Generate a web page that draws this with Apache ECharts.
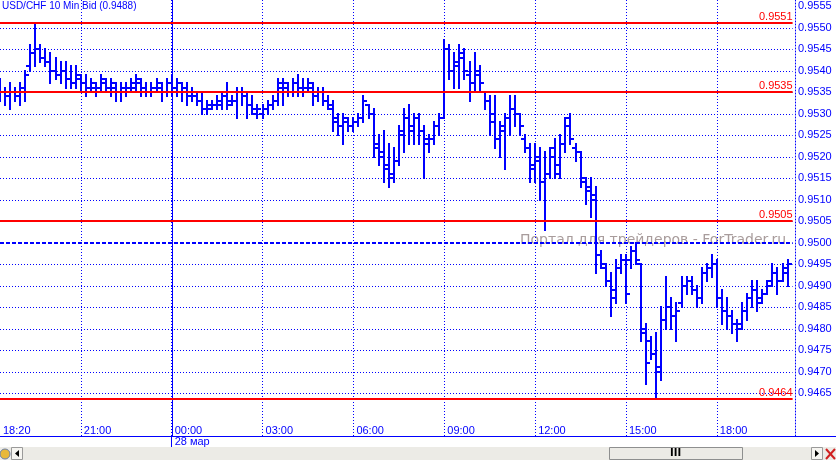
<!DOCTYPE html>
<html><head><meta charset="utf-8">
<script src="https://cdn.jsdelivr.net/npm/echarts@6/dist/echarts.min.js"></script>
<style>html,body{margin:0;padding:0;background:#fff}#c{width:836px;height:460px}</style>
</head><body><div id="c"></div>
<script>
var chartTitle = 'USD/CHF 10 Min Bid (0.9488)';
var watermark = 'Портал для трейдеров - ForTrader.ru';
var dayLabel = '28 мар';
var times = ['18:20','18:30','18:40','18:50',
'19:00','19:10','19:20','19:30','19:40','19:50','20:00','20:10','20:20','20:30','20:40','20:50',
'21:00','21:10','21:20','21:30','21:40','21:50','22:00','22:10','22:20','22:30','22:40','22:50',
'23:00','23:10','23:20','23:30','23:40','23:50','00:00','00:10','00:20','00:30','00:40','00:50',
'01:00','01:10','01:20','01:30','01:40','01:50','02:00','02:10','02:20','02:30','02:40','02:50',
'03:00','03:10','03:20','03:30','03:40','03:50','04:00','04:10','04:20','04:30','04:40','04:50',
'05:00','05:10','05:20','05:30','05:40','05:50','06:00','06:10','06:20','06:30','06:40','06:50',
'07:00','07:10','07:20','07:30','07:40','07:50','08:00','08:10','08:20','08:30','08:40','08:50',
'09:00','09:10','09:20','09:30','09:40','09:50','10:00','10:10','10:20','10:30','10:40','10:50',
'11:00','11:10','11:20','11:30','11:40','11:50','12:00','12:10','12:20','12:30','12:40','12:50',
'13:00','13:10','13:20','13:30','13:40','13:50','14:00','14:10','14:20','14:30','14:40','14:50',
'15:00','15:10','15:20','15:30','15:40','15:50','16:00','16:10','16:20','16:30','16:40','16:50',
'17:00','17:10','17:20','17:30','17:40','17:50','18:00','18:10','18:20','18:30','18:40','18:50',
'19:00','19:10','19:20','19:30','19:40','19:50','20:00','20:10','20:20'];
var shownTimes = ['21:00','00:00','03:00','06:00','09:00','12:00','15:00','18:00'];

var opens = [0.9536,0.9535,0.9534,0.9535,0.9534,0.9535,0.9541,0.9544,0.9545,0.9543,
0.9542,0.9540,0.9539,0.9540,0.9538,0.9537,0.9538,0.9537,0.9536,0.9536,
0.9536,0.9537,0.9536,0.9536,0.9535,0.9536,0.9536,0.9536,0.9537,0.9536,
0.9535,0.9536,0.9536,0.9535,0.9537,0.9536,0.9537,0.9536,0.9535,0.9534,
0.9533,0.9531,0.9531,0.9532,0.9532,0.9534,0.9533,0.9533,0.9535,0.9534,
0.9532,0.9530,0.9530,0.9531,0.9532,0.9533,0.9536,0.9536,0.9535,0.9537,
0.9536,0.9536,0.9536,0.9534,0.9535,0.9533,0.9531,0.9529,0.9527,0.9528,
0.9527,0.9528,0.9529,0.9532,0.9530,0.9523,0.9521,0.9518,0.9516,0.9519,
0.9525,0.9529,0.9526,0.9529,0.9526,0.9523,0.9524,0.9527,0.9529,0.9545,
0.9540,0.9541,0.9543,0.9539,0.9537,0.9539,0.9535,0.9533,0.9530,0.9524,
0.9527,0.9529,0.9531,0.9530,0.9524,0.9522,0.9517,0.9519,0.9514,0.9516,
0.9522,0.9516,0.9523,0.9529,0.9522,0.9521,0.9514,0.9513,0.9511,0.9497,
0.9494,0.9491,0.9487,0.9494,0.9496,0.9496,0.9498,0.9495,0.9479,0.9477,
0.9474,0.9470,0.9482,0.9485,0.9483,0.9486,0.9490,0.9491,0.9489,0.9487,
0.9493,0.9494,0.9495,0.9487,0.9484,0.9483,0.9481,0.9481,0.9484,0.9487,
0.9489,0.9487,0.9488,0.9491,0.9493,0.9491,0.9493];
var highs = [0.9538,0.9536,0.9537,0.9536,0.9537,0.9540,0.9546,0.9551,0.9546,0.9545,
0.9544,0.9543,0.9542,0.9542,0.9541,0.9541,0.9539,0.9539,0.9538,0.9537,
0.9539,0.9538,0.9538,0.9537,0.9537,0.9537,0.9538,0.9539,0.9538,0.9537,
0.9537,0.9538,0.9537,0.9538,0.9539,0.9538,0.9537,0.9537,0.9536,0.9535,
0.9535,0.9533,0.9533,0.9534,0.9535,0.9537,0.9534,0.9536,0.9536,0.9535,
0.9534,0.9532,0.9532,0.9533,0.9534,0.9538,0.9538,0.9537,0.9538,0.9539,
0.9538,0.9538,0.9537,0.9536,0.9536,0.9534,0.9533,0.9530,0.9530,0.9529,
0.9529,0.9530,0.9534,0.9532,0.9531,0.9525,0.9526,0.9523,0.9522,0.9527,
0.9531,0.9532,0.9530,0.9530,0.9527,0.9525,0.9528,0.9530,0.9547,0.9546,
0.9544,0.9546,0.9545,0.9542,0.9544,0.9541,0.9535,0.9534,0.9534,0.9528,
0.9530,0.9534,0.9534,0.9530,0.9525,0.9523,0.9523,0.9522,0.9521,0.9522,
0.9524,0.9525,0.9529,0.9530,0.9523,0.9521,0.9515,0.9515,0.9513,0.9498,
0.9495,0.9493,0.9496,0.9497,0.9497,0.9499,0.9500,0.9495,0.9481,0.9478,
0.9479,0.9485,0.9492,0.9487,0.9486,0.9492,0.9492,0.9492,0.9490,0.9494,
0.9495,0.9497,0.9496,0.9489,0.9487,0.9484,0.9482,0.9486,0.9488,0.9491,
0.9491,0.9489,0.9491,0.9495,0.9494,0.9495,0.9496];
var lows = [0.9533,0.9532,0.9531,0.9533,0.9532,0.9533,0.9540,0.9541,0.9542,0.9541,
0.9537,0.9538,0.9537,0.9536,0.9536,0.9536,0.9535,0.9534,0.9535,0.9534,
0.9535,0.9535,0.9534,0.9533,0.9533,0.9534,0.9535,0.9535,0.9534,0.9534,
0.9534,0.9535,0.9533,0.9534,0.9534,0.9534,0.9533,0.9532,0.9533,0.9532,
0.9530,0.9530,0.9531,0.9531,0.9531,0.9531,0.9532,0.9529,0.9532,0.9529,
0.9530,0.9529,0.9529,0.9530,0.9531,0.9532,0.9532,0.9534,0.9534,0.9534,
0.9534,0.9535,0.9532,0.9533,0.9532,0.9531,0.9526,0.9525,0.9523,0.9526,
0.9526,0.9527,0.9528,0.9529,0.9520,0.9518,0.9514,0.9513,0.9514,0.9518,
0.9521,0.9523,0.9523,0.9523,0.9515,0.9521,0.9523,0.9525,0.9529,0.9538,
0.9536,0.9536,0.9538,0.9533,0.9535,0.9535,0.9531,0.9525,0.9522,0.9520,
0.9517,0.9525,0.9527,0.9525,0.9521,0.9514,0.9514,0.9510,0.9503,0.9515,
0.9515,0.9515,0.9521,0.9523,0.9519,0.9513,0.9509,0.9506,0.9493,0.9494,
0.9490,0.9483,0.9486,0.9493,0.9486,0.9494,0.9495,0.9477,0.9467,0.9473,
0.94637,0.9468,0.9480,0.9480,0.9477,0.9485,0.9488,0.9488,0.9485,0.9486,
0.9491,0.9492,0.9485,0.9481,0.9480,0.9479,0.9477,0.9480,0.9482,0.9485,
0.9484,0.9486,0.9488,0.9490,0.9488,0.9491,0.9490];
var closes = [0.9535,0.9534,0.9535,0.9534,0.9536,0.9539,0.9544,0.9545,0.9543,0.9542,
0.9540,0.9539,0.9540,0.9538,0.9537,0.9539,0.9537,0.9536,0.9537,0.9535,
0.9538,0.9536,0.9537,0.9535,0.9536,0.9535,0.9537,0.9538,0.9536,0.9535,
0.9536,0.9537,0.9535,0.9537,0.9536,0.9537,0.9535,0.9534,0.9534,0.9533,
0.9531,0.9532,0.9532,0.9533,0.9534,0.9532,0.9533,0.9535,0.9534,0.9532,
0.9531,0.9531,0.9531,0.9532,0.9533,0.9537,0.9537,0.9535,0.9537,0.9536,
0.9536,0.9537,0.9534,0.9535,0.9533,0.9532,0.9528,0.9527,0.9529,0.9527,
0.9528,0.9529,0.9533,0.9530,0.9522,0.9520,0.9517,0.9515,0.9519,0.9526,
0.9529,0.9527,0.9529,0.9526,0.9524,0.9524,0.9527,0.9529,0.9545,0.9540,
0.9542,0.9544,0.9540,0.9537,0.9540,0.9537,0.9533,0.9528,0.9524,0.9526,
0.9529,0.9531,0.9530,0.9527,0.9522,0.9518,0.9520,0.9514,0.9516,0.9520,
0.9518,0.9523,0.9527,0.9524,0.9521,0.9515,0.9512,0.9510,0.9497,0.9495,
0.9491,0.9489,0.9494,0.9496,0.9488,0.9498,0.9496,0.9480,0.9472,0.9474,
0.9471,0.9482,0.9485,0.9483,0.9484,0.9490,0.9491,0.9489,0.9487,0.9493,
0.9494,0.9495,0.9487,0.9484,0.9483,0.9481,0.9480,0.9484,0.9487,0.9489,
0.9486,0.9488,0.9490,0.9493,0.9491,0.9494,0.9495];

var levelLines = [0.9551, 0.9535, 0.9505, 0.94637];
var bidLine = 0.9500;
var gridLevels = [0.9465,0.9470,0.9475,0.9480,0.9485,0.9490,0.9495,0.9500,0.9505,0.9510,
0.9515,0.9520,0.9525,0.9530,0.9535,0.9540,0.9545,0.9550];
var yMin = 0.9455, yMax = 0.95564, yStep = 0.0005, yLabelFrom = 0.9465;

var BLUE = '#0000ff', RED = '#ff0000', FONT = 'Liberation Sans';
var cats = times.concat(['']);
var ohlc = times.map(function (t, i) { return [i, opens[i], highs[i], lows[i], closes[i]]; });
var dayIndex = times.indexOf('00:00');
function isMajor(idx) { return idx > 0 && shownTimes.indexOf(times[idx]) >= 0; }

function renderOHLC(params, api) {
  var i = api.value(0);
  var o = api.coord([i, api.value(1)]);
  var h = api.coord([i, api.value(2)]);
  var l = api.coord([i, api.value(3)]);
  var c = api.coord([i, api.value(4)]);
  var x = Math.round(o[0]);
  var hy = Math.round(h[1]), ly = Math.round(l[1]);
  var st = {fill: BLUE};
  return {type: 'group', children: [
    {type: 'rect', shape: {x: x - 1, y: hy - 1, width: 2, height: Math.max(2, ly - hy + 2)}, style: st},
    {type: 'rect', shape: {x: x - 4, y: Math.round(o[1]) - 1, width: 3, height: 2}, style: st},
    {type: 'rect', shape: {x: x + 1, y: Math.round(c[1]) - 1, width: 3, height: 2}, style: st}
  ]};
}
function hLineRenderer(stroke, width, dash, withLabel) {
  return function (params, api) {
    var cs = params.coordSys;
    var y = api.coord([0, api.value(1)])[1];
    y = width % 2 ? Math.round(y) + 0.5 : Math.round(y);
    var kids = [{type: 'line', shape: {x1: 0, y1: y, x2: cs.x + cs.width, y2: y},
      style: {stroke: stroke, lineWidth: width, lineDash: dash}}];
    if (withLabel) {
      kids.push({type: 'text', style: {text: api.value(1).toFixed(4), x: cs.x + cs.width, y: y - 1,
        align: 'right', verticalAlign: 'bottom', fill: stroke, font: '11px "' + FONT + '"'}});
    }
    return {type: 'group', children: kids};
  };
}
function vLineRenderer(params, api) {
  var cs = params.coordSys;
  var x = Math.round(api.coord([api.value(0), api.value(1)])[0]) + 0.5;
  return {type: 'line', shape: {x1: x, y1: cs.y, x2: x, y2: cs.y + cs.height},
    style: {stroke: BLUE, lineWidth: 1}};
}

var chart = echarts.init(document.getElementById('c'), null, {renderer: 'canvas'});
chart.setOption({
  animation: false,
  backgroundColor: '#ffffff',
  title: {text: chartTitle, left: 2, top: 1, padding: 0,
    textStyle: {fontSize: 10, fontWeight: 'normal', color: BLUE, fontFamily: FONT}},
  grid: [
    {left: -1.6, right: 43.4, top: 0, height: 436},
    {left: -1.6, right: 43.4, top: 436, height: 11}
  ],
  xAxis: [
    {type: 'category', gridIndex: 0, data: cats, boundaryGap: false,
      axisLine: {show: false}, axisTick: {show: false},
      axisLabel: {inside: true, margin: 0, align: 'left', padding: [0, 0, 0, 3],
        color: BLUE, fontSize: 11, fontFamily: FONT,
        interval: function (idx) { return idx === 0 || isMajor(idx); }},
      splitLine: {show: true, interval: function (idx) { return isMajor(idx); },
        lineStyle: {color: BLUE, type: [1, 2], width: 1}}},
    {type: 'category', gridIndex: 1, data: cats, boundaryGap: false,
      axisLine: {show: false}, axisTick: {show: false},
      axisLabel: {inside: true, margin: 0, align: 'left', padding: [0, 0, 0, 3],
        color: BLUE, fontSize: 11, fontFamily: FONT,
        interval: function (idx) { return idx === dayIndex; },
        formatter: function () { return dayLabel; }},
      splitLine: {show: true, interval: function (idx) { return idx === dayIndex; },
        lineStyle: {color: BLUE, type: 'solid', width: 1}}}
  ],
  yAxis: [
    {type: 'value', gridIndex: 0, position: 'right', offset: 2.4, min: yMin, max: yMax, interval: yStep,
      splitLine: {show: false}, axisTick: {show: false},
      axisLine: {show: true, lineStyle: {color: BLUE, type: [1, 2], width: 1}},
      axisLabel: {margin: 3, color: BLUE, fontSize: 11, fontFamily: FONT,
        formatter: function (v) { return v < yLabelFrom - 1e-7 ? '' : v.toFixed(4); }}},
    {type: 'value', gridIndex: 1, show: false, min: 0, max: 1}
  ],
  graphic: [
    {type: 'text', z: -10, left: 520, top: 233,
      style: {text: watermark, fill: '#a89c9c', font: '14px "DejaVu Sans"'}},
    {type: 'line', z: 10, shape: {x1: 0, y1: 436.5, x2: 836, y2: 436.5}, style: {stroke: BLUE, lineWidth: 1}},
    {type: 'rect', z: 10, shape: {x: 0, y: 447, width: 836, height: 13}, style: {fill: '#ecebe6'}},
    {type: 'rect', z: 11, shape: {x: 609.5, y: 447.5, width: 133, height: 12}, style: {fill: '#ecebe6', stroke: '#8e8f8f'}},
    {type: 'text', z: 12, left: 670, top: 448, style: {text: 'III', fill: '#000', font: 'bold 10px "DejaVu Sans"'}},
    {type: 'rect', z: 11, shape: {x: 11.5, y: 447.5, width: 11, height: 12}, style: {fill: '#f6f5f1', stroke: '#9a9a9a'}},
    {type: 'polygon', z: 12, shape: {points: [[19, 450], [19, 457], [15, 453.5]]}, style: {fill: '#000'}},
    {type: 'rect', z: 11, shape: {x: 811.5, y: 447.5, width: 11, height: 12}, style: {fill: '#f6f5f1', stroke: '#9a9a9a'}},
    {type: 'polygon', z: 12, shape: {points: [[815, 450], [815, 457], [819, 453.5]]}, style: {fill: '#000'}},
    {type: 'circle', z: 11, shape: {cx: 5, cy: 454, r: 5}, style: {fill: '#e8b83a', stroke: '#6b7fa8'}},
    {type: 'line', z: 12, shape: {x1: 826, y1: 449, x2: 835, y2: 459}, style: {stroke: '#d02020', lineWidth: 2}},
    {type: 'line', z: 12, shape: {x1: 835, y1: 449, x2: 826, y2: 459}, style: {stroke: '#d02020', lineWidth: 2}}
  ],
  series: [
    {type: 'custom', name: 'gridLevels', z: 1, silent: true, clip: false,
      renderItem: hLineRenderer(BLUE, 1, [1, 2], false), encode: {x: 0, y: 1},
      data: gridLevels.map(function (v) { return [0, v]; })},
    {type: 'custom', name: 'day', z: 2, silent: true,
      renderItem: vLineRenderer, encode: {x: 0, y: 1}, data: [[dayIndex, yMax]]},
    {type: 'custom', name: 'USDCHF', z: 3,
      renderItem: renderOHLC, encode: {x: 0, y: [1, 2, 3, 4]}, data: ohlc},
    {type: 'custom', name: 'bid', z: 4, silent: true, clip: false,
      renderItem: hLineRenderer(BLUE, 2, [4, 2], false), encode: {x: 0, y: 1}, data: [[0, bidLine]]},
    {type: 'custom', name: 'levels', z: 5, silent: true, clip: false,
      renderItem: hLineRenderer(RED, 2, null, true), encode: {x: 0, y: 1},
      data: levelLines.map(function (v) { return [0, v]; })}
  ]
});
</script></body></html>
